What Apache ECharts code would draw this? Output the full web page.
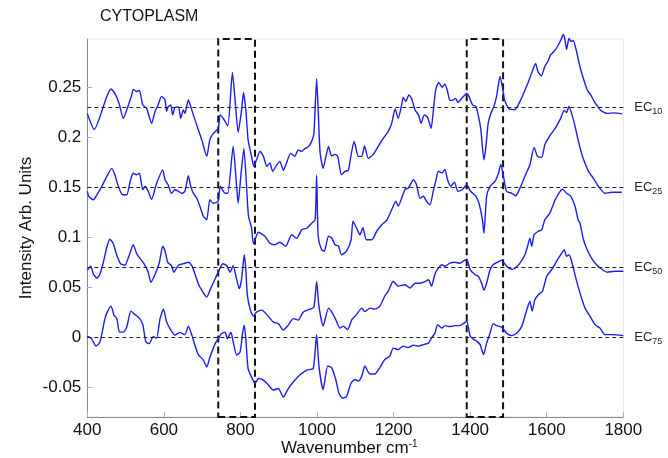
<!DOCTYPE html>
<html>
<head>
<meta charset="utf-8">
<script src="https://cdn.jsdelivr.net/npm/echarts@6/dist/echarts.min.js"></script>
<style>
  html, body { margin: 0; padding: 0; background: #fff; }
  #chart { width: 668px; height: 458px; }
</style>
</head>
<body>
<div id="chart"></div>
<script>
// Raman spectra of the cytoplasm at four concentrations (offset vertically)
const ec10Wn = [400,418,451,462,472,483,494,503,516,520,529,536,545,555,568,577,585,594,603,607,611,618,623,629,638,644,651,655,664,670,677,687,699,712,720,729,742,747,755,767,779,786,794,803,808,814,820,829,835,842,851,860,869,877,884,895,903,912,920,931,942,951,960,969,977,986,992,999,1003,1008,1016,1025,1030,1038,1047,1054,1064,1073,1082,1089,1097,1108,1117,1124,1134,1147,1160,1173,1186,1195,1204,1212,1221,1225,1232,1240,1247,1256,1265,1272,1280,1289,1298,1304,1310,1318,1327,1334,1341,1347,1353,1362,1368,1380,1391,1397,1406,1415,1421,1428,1436,1441,1447,1454,1462,1469,1478,1484,1490,1501,1515,1522,1532,1545,1554,1562,1571,1577,1586,1595,1603,1610,1619,1628,1637,1643,1647,1652,1658,1664,1669,1676,1682,1688,1697,1706,1715,1724,1732,1741,1758,1776,1797];
const ec10Val = [0.224,0.208,0.241,0.2485,0.244,0.234,0.219,0.2275,0.2425,0.248,0.246,0.247,0.2325,0.229,0.214,0.226,0.2325,0.241,0.2375,0.226,0.2305,0.2325,0.2225,0.230,0.2305,0.219,0.2275,0.224,0.2375,0.231,0.2225,0.211,0.1975,0.181,0.1975,0.204,0.209,0.2225,0.219,0.2115,0.265,0.2375,0.205,0.2275,0.245,0.2275,0.1975,0.181,0.171,0.1775,0.186,0.181,0.171,0.1745,0.166,0.1725,0.176,0.167,0.174,0.184,0.181,0.1875,0.186,0.189,0.1905,0.196,0.204,0.2585,0.2285,0.185,0.169,0.184,0.191,0.1815,0.183,0.181,0.1625,0.166,0.167,0.1825,0.196,0.181,0.181,0.1915,0.179,0.183,0.191,0.199,0.206,0.214,0.2285,0.219,0.2325,0.240,0.236,0.2425,0.239,0.2275,0.2225,0.214,0.2225,0.220,0.209,0.2275,0.2475,0.255,0.250,0.2535,0.246,0.237,0.237,0.239,0.235,0.240,0.244,0.241,0.2325,0.231,0.2225,0.2075,0.1775,0.190,0.214,0.224,0.231,0.241,0.261,0.251,0.2375,0.229,0.2275,0.230,0.2375,0.249,0.2575,0.266,0.274,0.266,0.2615,0.271,0.276,0.2825,0.286,0.291,0.2975,0.303,0.299,0.288,0.299,0.296,0.297,0.289,0.279,0.269,0.2575,0.2475,0.2425,0.236,0.2315,0.227,0.224,0.2245,0.2235];

const ec25Wn = [400,404,416,425,438,451,464,472,481,492,503,512,520,529,536,545,551,559,568,581,597,603,611,620,629,638,647,655,664,670,677,686,694,703,712,720,729,742,747,760,767,781,788,794,801,809,816,821,829,834,847,864,877,890,903,918,934,947,960,973,986,995,999,1003,1012,1019,1030,1038,1047,1056,1064,1077,1089,1094,1103,1112,1120,1129,1143,1156,1169,1182,1195,1206,1212,1221,1230,1238,1252,1260,1269,1278,1286,1295,1304,1310,1317,1326,1334,1341,1349,1359,1368,1380,1391,1401,1415,1423,1432,1436,1443,1452,1465,1474,1480,1487,1495,1509,1519,1530,1543,1556,1567,1576,1587,1595,1608,1622,1635,1646,1652,1658,1665,1674,1682,1691,1700,1709,1722,1735,1752,1770,1796];
const ec25Val = [0.146,0.141,0.1375,0.1425,0.151,0.161,0.169,0.1625,0.151,0.1425,0.1425,0.156,0.164,0.1625,0.164,0.1475,0.151,0.146,0.138,0.154,0.1675,0.1575,0.1525,0.144,0.1475,0.146,0.144,0.146,0.1615,0.151,0.144,0.139,0.131,0.121,0.1175,0.1375,0.134,0.136,0.151,0.144,0.144,0.191,0.161,0.134,0.161,0.189,0.151,0.121,0.1095,0.0935,0.105,0.101,0.094,0.0925,0.095,0.091,0.1025,0.099,0.1075,0.109,0.114,0.1175,0.162,0.101,0.0875,0.086,0.101,0.0995,0.0925,0.091,0.0825,0.086,0.0975,0.116,0.1095,0.1025,0.1095,0.0975,0.0975,0.106,0.1125,0.117,0.1275,0.136,0.131,0.139,0.148,0.149,0.1575,0.1525,0.139,0.141,0.136,0.1325,0.147,0.156,0.166,0.1645,0.168,0.1575,0.151,0.155,0.146,0.148,0.1525,0.146,0.141,0.134,0.1175,0.104,0.141,0.151,0.156,0.164,0.173,0.161,0.146,0.144,0.1415,0.149,0.161,0.1725,0.190,0.181,0.180,0.1925,0.2015,0.209,0.218,0.227,0.225,0.231,0.224,0.211,0.1975,0.184,0.174,0.166,0.159,0.151,0.144,0.145,0.145];

const ec50Wn = [400,409,416,425,433,442,451,459,468,477,487,498,510,520,529,538,548,559,566,577,588,597,603,610,620,626,638,651,664,673,681,690,699,712,722,734,742,754,764,773,781,790,797,803,810,814,818,826,834,842,856,869,886,899,912,925,938,951,964,982,992,999,1005,1016,1030,1038,1049,1060,1069,1080,1091,1103,1117,1125,1138,1151,1164,1177,1186,1199,1212,1230,1243,1256,1269,1282,1291,1299,1308,1315,1326,1334,1347,1360,1373,1382,1391,1400,1413,1421,1430,1436,1443,1452,1460,1472,1482,1495,1509,1517,1530,1543,1550,1556,1561,1567,1578,1587,1595,1608,1622,1635,1641,1652,1663,1674,1682,1687,1695,1704,1717,1730,1744,1757,1778,1800];
const ec50Val = [0.067,0.071,0.063,0.059,0.063,0.075,0.090,0.098,0.0935,0.082,0.0735,0.072,0.0825,0.0925,0.0835,0.0785,0.0735,0.065,0.055,0.063,0.0745,0.091,0.0865,0.075,0.0715,0.065,0.072,0.0735,0.075,0.0715,0.0635,0.0535,0.047,0.040,0.0485,0.0585,0.065,0.0735,0.0715,0.065,0.0715,0.058,0.0485,0.058,0.0825,0.068,0.042,0.027,0.021,0.025,0.027,0.0225,0.015,0.0135,0.007,0.012,0.0185,0.017,0.025,0.028,0.030,0.0558,0.031,0.011,0.029,0.0255,0.0175,0.009,0.011,0.0075,0.0175,0.0225,0.029,0.0255,0.029,0.028,0.031,0.041,0.046,0.056,0.051,0.0525,0.049,0.054,0.054,0.0555,0.0575,0.051,0.063,0.068,0.0725,0.071,0.074,0.075,0.074,0.076,0.078,0.0675,0.0625,0.061,0.054,0.047,0.054,0.0675,0.0725,0.075,0.077,0.071,0.068,0.069,0.074,0.0825,0.091,0.099,0.091,0.1025,0.106,0.1075,0.1175,0.124,0.1375,0.146,0.148,0.144,0.141,0.131,0.1175,0.114,0.099,0.089,0.079,0.0725,0.068,0.065,0.066,0.066];

const ec75Wn = [400,411,423,433,446,452,462,470,477,484,494,503,514,525,536,545,553,562,572,581,590,599,607,616,629,642,655,664,673,681,690,703,712,720,734,742,751,760,766,775,781,790,799,806,810,814,820,829,838,847,860,873,886,899,912,925,938,955,973,990,999,1005,1016,1028,1038,1049,1057,1066,1077,1089,1099,1108,1117,1125,1138,1151,1164,1177,1190,1199,1212,1225,1238,1252,1265,1278,1291,1299,1308,1315,1326,1334,1347,1360,1373,1382,1391,1400,1408,1417,1426,1435,1443,1452,1460,1469,1482,1495,1509,1522,1535,1548,1556,1562,1569,1578,1589,1600,1613,1626,1639,1646,1652,1658,1665,1676,1687,1700,1713,1726,1739,1752,1770,1800];
const ec75Val = [0.001,-0.0015,-0.009,-0.005,0.0185,0.025,0.031,0.0215,0.019,0.005,0.005,0.010,0.026,0.0225,0.019,0.0125,-0.005,-0.0065,0.0005,-0.001,0.0185,0.028,0.0155,0.0085,0.002,0.0045,0.0025,0.011,0.002,-0.008,-0.0175,-0.023,-0.030,-0.0205,-0.0065,-0.0015,0.0035,0.005,-0.0015,0.005,-0.0045,-0.018,-0.015,0.005,0.012,-0.0015,-0.0315,-0.040,-0.0465,-0.0415,-0.043,-0.048,-0.053,-0.0515,-0.060,-0.0515,-0.045,-0.038,-0.033,-0.0315,0.0025,-0.029,-0.0525,-0.029,-0.0305,-0.0425,-0.056,-0.061,-0.0595,-0.046,-0.0425,-0.044,-0.039,-0.029,-0.037,-0.037,-0.0305,-0.0225,-0.019,-0.011,-0.0125,-0.009,-0.0105,-0.008,-0.009,-0.0075,-0.006,-0.001,0.004,0.0125,0.009,0.0115,0.0105,0.0115,0.0115,0.0135,0.016,0.001,-0.002,-0.004,-0.0075,-0.0175,-0.006,0.004,0.0135,0.0115,0.010,0.004,0.0015,0.004,0.011,0.0275,0.036,0.026,0.0375,0.0425,0.046,0.061,0.0675,0.076,0.084,0.0875,0.081,0.0825,0.076,0.059,0.044,0.029,0.021,0.0125,0.009,0.0025,0.0025,0.0015];

const concentrations = ['10', '25', '50', '75'];
const baselines = [0.225, 0.1465, 0.0675, 0.002];
const highlightBands = [[742, 838], [1391, 1486]];
const xTicks = [400, 600, 800, 1000, 1200, 1400, 1600, 1800];
const yTicks = [-0.05, 0, 0.05, 0.1, 0.15, 0.2, 0.25];
const yTickText = ['-0.05', '0', '0.05', '0.1', '0.15', '0.2', '0.25'];

const spectra = [
  [ec10Wn, ec10Val],
  [ec25Wn, ec25Val],
  [ec50Wn, ec50Val],
  [ec75Wn, ec75Val]
];

const FONT = '"Liberation Sans", Arial, Helvetica, sans-serif';
const chart = echarts.init(document.getElementById('chart'), null, { renderer: 'canvas' });

const series = spectra.map(([wn, val], i) => {
  const s = {
    type: 'line',
    name: 'EC' + concentrations[i],
    data: wn.map((w, k) => [w, val[k]]),
    showSymbol: false,
    symbol: 'none',
    clip: false,
    smooth: 0.2,
    lineStyle: { color: '#1c1cf0', width: 1.4 },
    z: 3,
    markLine: {
      silent: true,
      symbol: 'none',
      animation: false,
      lineStyle: { color: '#222', width: 1, type: [4, 3] },
      label: {
        show: true,
        position: 'end',
        distance: 11,
        formatter: '{m|EC}{s|' + concentrations[i] + '}',
        rich: {
          m: { fontFamily: FONT, fontSize: 13, color: '#222' },
          s: { fontFamily: FONT, fontSize: 9, color: '#222', verticalAlign: 'bottom', padding: [8, 0, 0, 0] }
        }
      },
      data: [{ yAxis: baselines[i] }]
    }
  };
  if (i === 0) {
    s.markArea = {
      silent: true,
      animation: false,
      itemStyle: { color: 'rgba(0,0,0,0)', borderColor: '#111', borderWidth: 2, borderType: [7, 4] },
      data: highlightBands.map(b => [{ xAxis: b[0] }, { xAxis: b[1] }])
    };
  }
  return s;
});

chart.setOption({
  animation: false,
  backgroundColor: '#fff',
  title: {
    text: 'CYTOPLASM',
    left: 100,
    top: 9,
    padding: 0,
    textStyle: { fontFamily: FONT, fontSize: 16, fontWeight: 'normal', color: '#111' }
  },
  grid: {
    left: 87.3, right: 44.7, top: 39, bottom: 41,
    containLabel: false,
    outerBoundsMode: 'none',
    show: true,
    borderColor: '#e4e4e4',
    borderWidth: 1,
    backgroundColor: 'transparent'
  },
  xAxis: {
    type: 'value',
    min: 400, max: 1800, interval: 200,
    name: 'Wavenumber cm{sup|-1}',
    nameLocation: 'middle',
    nameGap: 22,
    nameMoveOverlap: false,
    nameTextStyle: {
      fontFamily: FONT, fontSize: 17, color: '#111', padding: [0, 12, 0, 0],
      rich: { sup: { fontFamily: FONT, fontSize: 10, color: '#111', verticalAlign: 'top', padding: [0, 0, 8, 0] } }
    },
    axisLine: { onZero: false, lineStyle: { color: '#8088a6', width: 1 } },
    axisTick: { inside: true, length: 5, lineStyle: { color: '#aab0e6' }, customValues: xTicks },
    axisLabel: { fontFamily: FONT, fontSize: 17, color: '#111', margin: 5, customValues: xTicks, formatter: v => String(v) },
    splitLine: { show: false }
  },
  yAxis: {
    type: 'value',
    min: -0.08, max: 0.2985,
    name: 'Intensity Arb. Units',
    nameLocation: 'middle',
    nameGap: 52,
    nameMoveOverlap: false,
    nameTextStyle: { fontFamily: FONT, fontSize: 17, color: '#111' },
    axisLine: { show: true, onZero: false, lineStyle: { color: '#8088a6', width: 1 } },
    axisTick: { show: true, inside: true, length: 5, lineStyle: { color: '#aab0e6' }, customValues: yTicks },
    axisLabel: {
      fontFamily: FONT, fontSize: 17, color: '#111', margin: 6,
      customValues: yTicks,
      formatter: v => {
        const k = yTicks.findIndex(t => Math.abs(t - v) < 1e-9);
        return k >= 0 ? yTickText[k] : '';
      }
    },
    splitLine: { show: false }
  },
  series: series
});
</script>
</body>
</html>
